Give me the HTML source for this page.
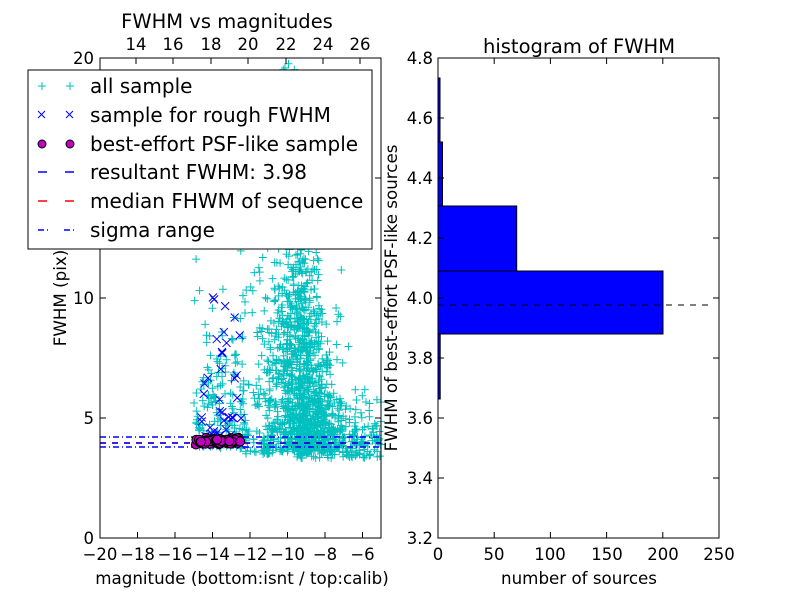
<!DOCTYPE html>
<html><head><meta charset="utf-8"><style>
html,body{margin:0;padding:0;background:#fff;}
svg text{font-family:"DejaVu Sans","Liberation Sans",sans-serif;}
</style></head><body>
<svg id="s" width="800" height="600" xmlns="http://www.w3.org/2000/svg">
<rect width="800" height="600" fill="#fff"/>
<g id="scat"></g>
<rect x="100" y="58" width="281" height="480" fill="none" stroke="#000" stroke-width="1"/>
<g id="lt" stroke="#000" stroke-width="1"></g>
<g font-size="16.5" fill="#000" text-anchor="middle">
<text x="100" y="560">−20</text><text x="137.5" y="560">−18</text><text x="175" y="560">−16</text><text x="212.5" y="560">−14</text><text x="250" y="560">−12</text><text x="287.5" y="560">−10</text><text x="325" y="560">−8</text><text x="362.5" y="560">−6</text>
<text x="136" y="50">14</text><text x="173" y="50">16</text><text x="211" y="50">18</text><text x="248" y="50">20</text><text x="286" y="50">22</text><text x="323" y="50">24</text><text x="360" y="50">26</text>
</g>
<g font-size="16.5" text-anchor="end">
<text x="94" y="544">0</text><text x="94" y="424">5</text><text x="94" y="304">10</text><text x="94" y="64">20</text>
</g>
<text x="227" y="28" font-size="19.5" text-anchor="middle">FWHM vs magnitudes</text>
<text x="242" y="584" font-size="16.7" text-anchor="middle">magnitude (bottom:isnt / top:calib)</text>
<text transform="translate(66,298) rotate(-90)" font-size="16.7" text-anchor="middle">FWHM (pix)</text>
<rect x="28" y="70" width="344" height="179" fill="#fff" stroke="#000"/>
<g font-size="20">
<text x="90" y="93">all sample</text>
<text x="90" y="122">sample for rough FWHM</text>
<text x="90" y="151">best-effort PSF-like sample</text>
<text x="90" y="179">resultant FWHM: 3.98</text>
<text x="90" y="208">median FHWM of sequence</text>
<text x="90" y="237">sigma range</text>
</g>
<g stroke-width="1">
<path d="M38 86h8M42 82v8M66 86h8M70 82v8" stroke="#00bfbf"/>
<path d="M38 111l7 7M45 111l-7 7M66 111l7 7M73 111l-7 7" stroke="#0000ff"/>
<circle cx="42" cy="144" r="4" fill="#bf00bf" stroke="#000"/><circle cx="70" cy="144" r="4" fill="#bf00bf" stroke="#000"/>
<path d="M38 172h9M65 172h9" stroke="#0000ff" stroke-width="1.5"/>
<path d="M38 201h9M65 201h9" stroke="#ff0000" stroke-width="1.5"/>
<path d="M38 230h6M47 230h1M64 230h6M73 230h1" stroke="#0000ff" stroke-width="1.5"/>
</g>
<g fill="#0000ff" stroke="#000" stroke-width="1">
<rect x="438" y="271" width="225" height="63"/>
<rect x="438" y="206" width="78.7" height="65"/>
<rect x="438" y="142" width="4.5" height="64"/>
<rect x="438" y="334" width="2.2" height="65"/>
<rect x="438" y="78" width="2" height="64"/>
</g>
<path d="M438 305H710" stroke="#000" stroke-dasharray="6,6"/>
<rect x="438" y="58" width="281" height="480" fill="none" stroke="#000"/>
<g id="rt" stroke="#000"></g>
<g font-size="16.5" text-anchor="middle">
<text x="438" y="560">0</text><text x="494" y="560">50</text><text x="550" y="560">100</text><text x="607" y="560">150</text><text x="663" y="560">200</text><text x="719" y="560">250</text>
</g>
<g font-size="16.5" text-anchor="end">
<text x="433" y="544">3.2</text><text x="433" y="484">3.4</text><text x="433" y="424">3.6</text><text x="433" y="364">3.8</text><text x="433" y="304">4.0</text><text x="433" y="244">4.2</text><text x="433" y="184">4.4</text><text x="433" y="124">4.6</text><text x="433" y="64">4.8</text>
</g>
<text x="579" y="53" font-size="19.5" text-anchor="middle">histogram of FWHM</text>
<text x="579" y="584" font-size="16.7" text-anchor="middle">number of sources</text>
<text transform="translate(397,298) rotate(-90)" font-size="16.7" text-anchor="middle">FWHM of best-effort PSF-like sources</text>
</svg>
<script>
var NS="http://www.w3.org/2000/svg";
var seed=12345;function r(){seed=(seed*1103515245+12345)%2147483648;return seed/2147483648;}
function n(){return Math.sqrt(-2*Math.log(r()+1e-9))*Math.cos(6.2832*r());}
function X(m){return 100+(m+20)*18.75;}function Y(f){return 538-f*24;}
var g=document.getElementById("scat");var d="";
function plus(x,y){if(x<100||x>381||y<58||y>538)return;d+="M"+(x-4)+" "+y+"h8M"+x+" "+(y-4)+"v8";}
var i,m,f;
for(i=0;i<900;i++){m=-9.2+n()*0.9;f=3.6+Math.abs(n())*(2.2+Math.max(0,1.8-Math.abs(m+9.5))*1.8);plus(X(m),Y(f));}
for(i=0;i<250;i++){m=-9.5+r()*4.5;f=3.3+Math.abs(n())*1.1;plus(X(m),Y(f));}
for(i=0;i<250;i++){m=-10.5+n()*1.4;f=3.5+r()*r()*12;plus(X(m),Y(f));}
for(i=0;i<150;i++){m=-15+r()*2.8;f=3.8+r()*r()*8;plus(X(m),Y(f));}
for(i=0;i<60;i++){m=-13+r()*6;f=3.5+r()*1.2;plus(X(m),Y(f));}
for(i=0;i<40;i++){m=-10+n()*1;f=11+r()*9;plus(X(m),Y(f));}
var p=document.createElementNS(NS,"path");p.setAttribute("d",d);p.setAttribute("stroke","#00bfbf");p.setAttribute("stroke-width","1");p.setAttribute("fill","none");g.appendChild(p);
d="";for(i=0;i<45;i++){m=-14.6+r()*2.2;f=3.8+r()*r()*7.5;var x=X(m),y=Y(f);d+="M"+(x-4)+" "+(y-4)+"l8 8M"+(x+4)+" "+(y-4)+"l-8 8";}
p=document.createElementNS(NS,"path");p.setAttribute("d",d);p.setAttribute("stroke","#0000ff");p.setAttribute("fill","none");g.appendChild(p);
[["M100 437H381","#0000ff","6,3,1,3"],["M100 447H381","#0000ff","6,3,1,3"],["M100 443H381","#ff0000","6,6"],["M100 443H381","#0000ff","6,6"]].forEach(function(a){var q=document.createElementNS(NS,"path");q.setAttribute("d",a[0]);q.setAttribute("stroke",a[1]);q.setAttribute("stroke-width","1.5");q.setAttribute("stroke-dasharray",a[2]);g.appendChild(q);});
for(i=0;i<90;i++){m=-14.9+r()*2.4;f=4.05+n()*0.06;var c=document.createElementNS(NS,"circle");c.setAttribute("cx",X(m));c.setAttribute("cy",Y(f));c.setAttribute("r",4.5);c.setAttribute("fill","#bf00bf");c.setAttribute("stroke","#000");g.appendChild(c);}
var lt="";for(i=0;i<=7;i++){var x=100+i*37.5;lt+="M"+x+" 538v-6";}
[136,173,211,248,286,323,360].forEach(function(x){lt+="M"+x+" 58v6";});
[538,418,298,178,58].forEach(function(y){lt+="M100 "+y+"h6M381 "+y+"h-6";});
p=document.createElementNS(NS,"path");p.setAttribute("d",lt);document.getElementById("lt").appendChild(p);
var rt="";for(i=0;i<=5;i++){var x=438+i*56.2;rt+="M"+x+" 538v-6M"+x+" 58v6";}
for(i=0;i<=8;i++){var y=538-i*60;rt+="M438 "+y+"h6M719 "+y+"h-6";}
p=document.createElementNS(NS,"path");p.setAttribute("d",rt);document.getElementById("rt").appendChild(p);
</script>
</body></html>
